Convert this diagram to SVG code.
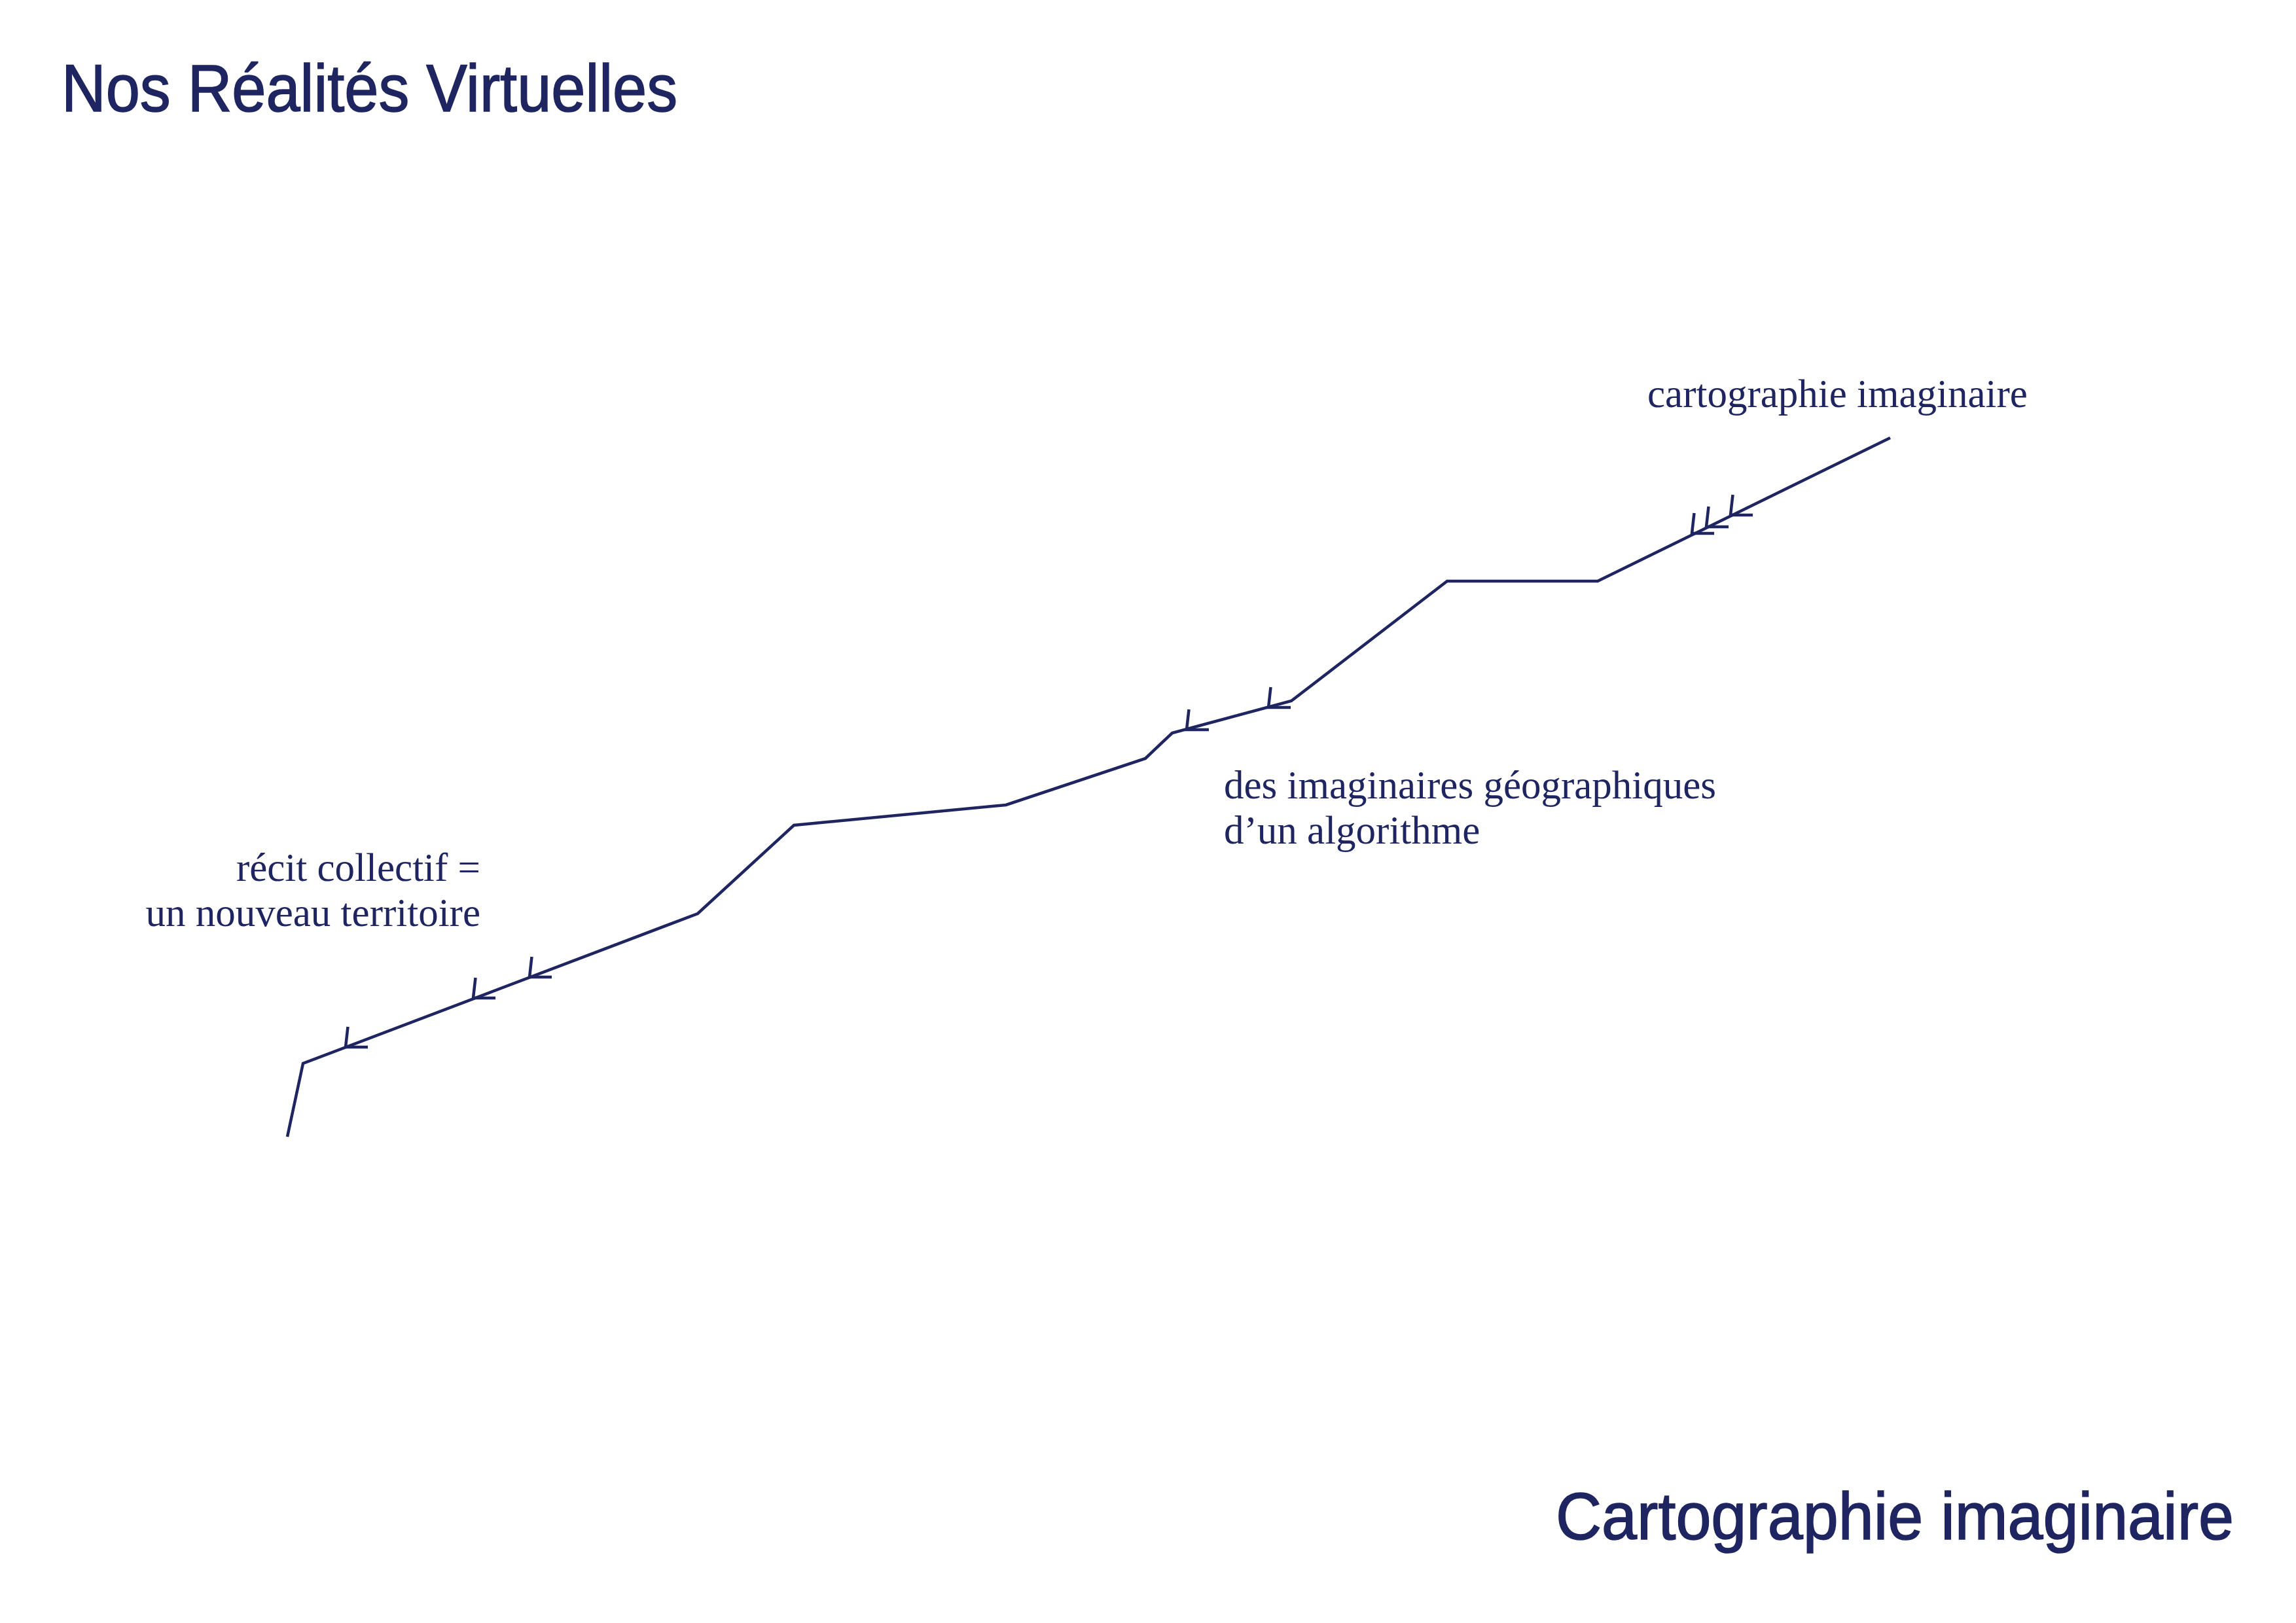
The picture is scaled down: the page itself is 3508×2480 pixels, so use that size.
<svg xmlns="http://www.w3.org/2000/svg" xmlns:xlink="http://www.w3.org/1999/xlink" width="3508" height="2480" viewBox="0 0 3508 2480">
  <style>
    .title { font-family: "Liberation Sans", Arial, sans-serif; font-size: 102px; fill: #1e2560; stroke: #1e2560; stroke-width: 1.6; }
    .label { font-family: "Liberation Serif", "Times New Roman", serif; font-size: 61px; fill: #1e2560; }
    .line { fill: none; stroke: #1e2560; stroke-width: 4.5; stroke-linejoin: miter; stroke-linecap: butt; }
  </style>
  <defs>
    <path id="ah" d="M3.5,-31 L0,0 L34,0"/>
  </defs>
  <rect width="3508" height="2480" fill="#ffffff"/>

  <g id="title-top">
    <text class="title" x="94" y="170" textLength="941" lengthAdjust="spacingAndGlyphs">Nos Réalités Virtuelles</text>
  </g>

  <g id="title-bottom">
    <text class="title" x="2377" y="2352" textLength="1036" lengthAdjust="spacingAndGlyphs">Cartographie imaginaire</text>
  </g>

  <g id="label-cartographie">
    <text class="label" x="2517" y="622">cartographie imaginaire</text>
  </g>

  <g id="label-imaginaires">
    <text class="label" x="1870" y="1220">des imaginaires géographiques</text>
    <text class="label" x="1870" y="1289">d’un algorithme</text>
  </g>

  <g id="label-recit">
    <text class="label" x="734" y="1346" text-anchor="end">récit collectif =</text>
    <text class="label" x="734" y="1415" text-anchor="end">un nouveau territoire</text>
  </g>

  <g id="connectors">
    <polyline class="line" points="439,1737 463,1625 1066,1396 1213,1261 1537,1230 1750,1159 1791,1120 1973,1071 2211,888 2441,888 2888,669"/>
    <use class="line" xlink:href="#ah" href="#ah" x="528" y="1600"/>
    <use class="line" xlink:href="#ah" href="#ah" x="723" y="1525"/>
    <use class="line" xlink:href="#ah" href="#ah" x="809" y="1493"/>
    <use class="line" xlink:href="#ah" href="#ah" x="1813" y="1115"/>
    <use class="line" xlink:href="#ah" href="#ah" x="1938" y="1081"/>
    <use class="line" xlink:href="#ah" href="#ah" x="2585" y="815"/>
    <use class="line" xlink:href="#ah" href="#ah" x="2607" y="805"/>
    <use class="line" xlink:href="#ah" href="#ah" x="2644" y="787"/>
  </g>
</svg>
